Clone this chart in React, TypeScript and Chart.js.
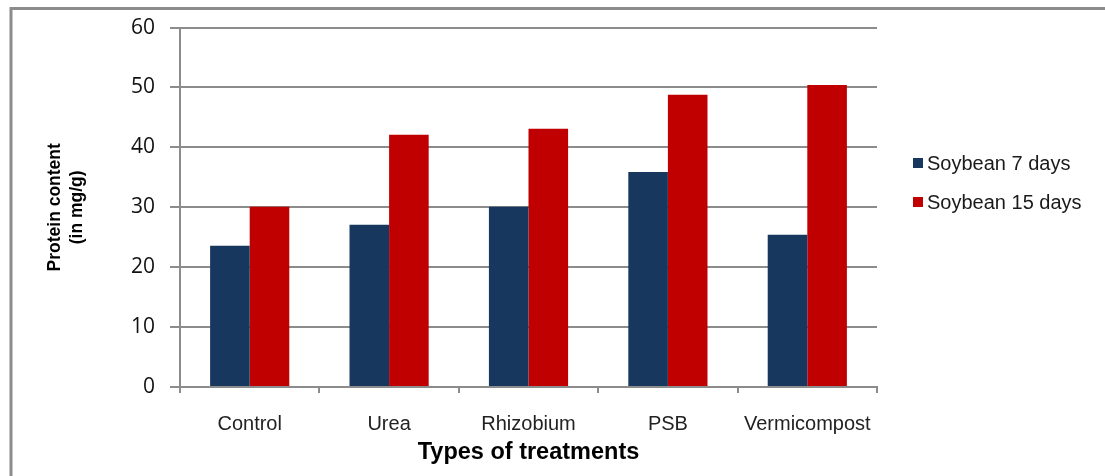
import React, { useEffect, useRef } from "react";
import { Chart, registerables } from "chart.js";

Chart.register(...registerables);

const categories = ["Control", "Urea", "Rhizobium", "PSB", "Vermicompost"];
const seriesNames = ["Soybean 7 days", "Soybean 15 days"];
const soybean7 = [23.6, 27.1, 30.1, 35.9, 25.4];
const soybean15 = [30.1, 42.1, 43.1, 48.8, 50.4];
const yTicks = [0, 10, 20, 30, 40, 50, 60];
const colors = ["#17375E", "#C00000"];

const W = 1105;
const H = 476;

const framePlugin = {
  id: "frame",
  beforeDraw(chart: any) {
    const ctx = chart.ctx;
    ctx.save();
    ctx.fillStyle = "#ffffff";
    ctx.fillRect(0, 0, chart.width, chart.height);
    ctx.strokeStyle = "#8c8c8c";
    ctx.lineWidth = 3;
    ctx.beginPath();
    ctx.moveTo(11, chart.height);
    ctx.lineTo(11, 8.5);
    ctx.lineTo(chart.width, 8.5);
    ctx.stroke();
    ctx.restore();
  },
};

const legendPlugin = {
  id: "customLegend",
  afterDraw(chart: any) {
    const ctx = chart.ctx;
    ctx.save();
    ctx.font = "20px 'Liberation Sans', Arial, sans-serif";
    ctx.textBaseline = "middle";
    ctx.textAlign = "left";
    chart.data.datasets.forEach((ds: any, i: number) => {
      const cy = 163 + i * 39;
      ctx.fillStyle = ds.backgroundColor;
      ctx.fillRect(913, cy - 5, 10, 10);
      ctx.fillStyle = "#1a1a1a";
      ctx.fillText(ds.label, 927, cy + 1);
    });
    ctx.restore();
  },
};

export default function App() {
  const ref = useRef<HTMLCanvasElement>(null);
  useEffect(() => {
    const canvas = ref.current;
    if (!canvas) return;
    const chart = new Chart(canvas, {
      type: "bar",
      data: {
        labels: categories,
        datasets: [
          { label: seriesNames[0], data: soybean7, backgroundColor: colors[0] },
          { label: seriesNames[1], data: soybean15, backgroundColor: colors[1] },
        ],
      },
      options: {
        responsive: false,
        animation: false,
        datasets: {
          bar: { categoryPercentage: 0.568, barPercentage: 1.0 },
        },
        layout: { padding: { left: 0, top: 24, right: 228, bottom: 0 } },
        plugins: {
          legend: { display: false },
          tooltip: { enabled: false },
        },
        scales: {
          x: {
            offset: true,
            grid: {
              display: true,
              drawOnChartArea: false,
              drawTicks: true,
              tickLength: 6,
              color: "#8c8c8c",
              lineWidth: 2,
              offset: true,
            },
            border: { display: true, color: "#8c8c8c", width: 2 },
            ticks: {
              color: "#222222",
              font: { family: "'Liberation Sans', Arial, sans-serif", size: 20 },
              padding: 19,
              maxRotation: 0,
            },
            title: {
              display: true,
              text: "Types of treatments",
              color: "#000000",
              font: { family: "'Liberation Sans', Arial, sans-serif", size: 23.5, weight: "bold" },
              padding: { top: 0, bottom: 9 },
            },
            afterFit(scale: any) {
              scale.height = 89;
            },
          },
          y: {
            min: 0,
            max: 60,
            afterBuildTicks(scale: any) {
              scale.ticks = yTicks.map((v) => ({ value: v }));
            },
            grid: {
              color: "#8c8c8c",
              lineWidth: 2,
              drawTicks: true,
              tickLength: 10,
            },
            border: { display: true, color: "#8c8c8c", width: 2 },
            ticks: {
              color: "#111111",
              font: { family: "'Open Sans', sans-serif", size: 21 },
              padding: 15,
            },
            title: {
              display: true,
              text: ["Protein content", "(in mg/g)"],
              color: "#000000",
              font: { family: "'Liberation Sans', Arial, sans-serif", size: 17.5, weight: "bold", lineHeight: 1.25 },
              padding: { top: 44, bottom: 0 },
            },
            afterFit(scale: any) {
              scale.width = 180;
            },
          },
        },
      },
      plugins: [framePlugin, legendPlugin],
    } as any);
    return () => chart.destroy();
  }, []);
  return (
    <div style={{ position: "fixed", left: 0, top: 0, width: W, height: H, background: "#fff" }}>
      <canvas ref={ref} width={W} height={H} style={{ display: "block", width: W, height: H }} />
    </div>
  );
}
